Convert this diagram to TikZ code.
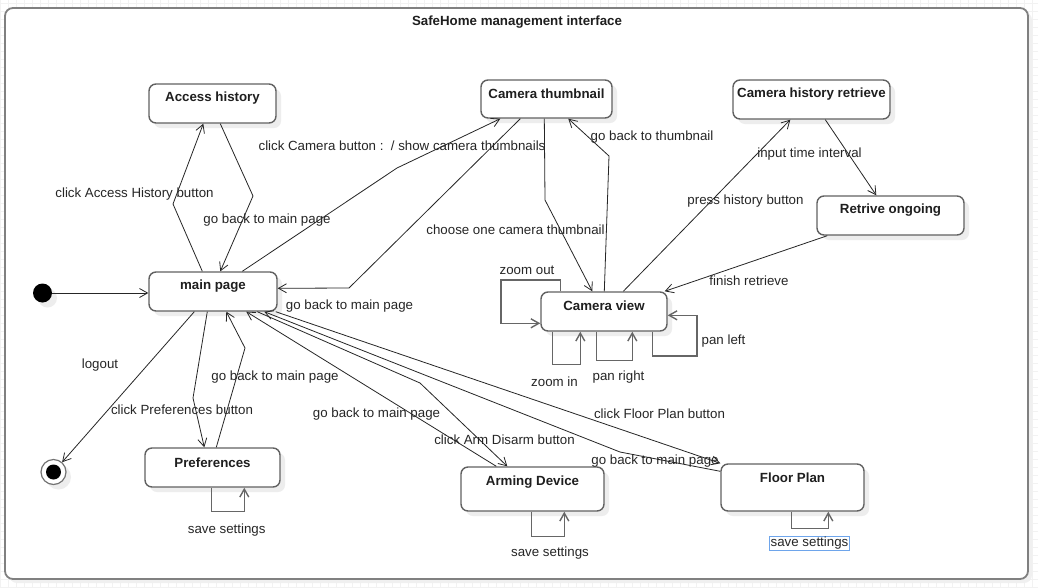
\documentclass[tikz,border=0pt]{standalone}
\usepackage{fontspec}
\setmainfont{Liberation Sans}
\usetikzlibrary{arrows.meta,calc,shadows}
\begin{document}
\begin{tikzpicture}[x=1pt,y=-1pt,
  shad/.style={drop shadow={shadow xshift=5pt, shadow yshift=-5pt, fill=black!7, opacity=1}},
  state/.style={draw=black!62, line width=1.4pt, rounded corners=7pt, fill=white, inner sep=0pt, shad},
  ttl/.style={font=\fontsize{13.3}{15}\selectfont\bfseries, text=black!88, inner sep=0pt},
  lbl/.style={font=\fontsize{13.3}{15}\selectfont, text=black!85, inner sep=0pt, yshift=-1.5pt},
  tr/.style={draw=black!85, line width=0.8pt, -{Straight Barb[length=8pt,width=9pt]}},
  loopy/.style={draw=black!60, line width=1.4pt, -{Straight Barb[length=8pt,width=9pt]}},
  gridl/.style={draw=black!5, line width=0.5pt},
]
\useasboundingbox (0,0) rectangle (1038,587);
% background grid
\foreach \i in {0,8,...,1038} \draw[gridl] (\i,0) -- (\i,587);
\foreach \j in {3,11,...,587} \draw[gridl] (0,\j) -- (1038,\j);
% frame
\draw[draw=black!50, line width=1.8pt, rounded corners=8pt, fill=white,
  drop shadow={shadow xshift=4pt, shadow yshift=-4pt, fill=black!6, opacity=1}] (5,8) rectangle (1028,579);
\node[ttl, yshift=-1.5pt] (title) at (517,21) {SafeHome management interface};

% states
\node[state, minimum width=127pt, minimum height=39pt,
  label={[ttl, name=acc-t, anchor=center, yshift=-14.5pt]north:Access history}] (acc) at (212.5,103.5) {};
\node[state, minimum width=131pt, minimum height=38pt,
  label={[ttl, name=thumb-t, anchor=center, yshift=-14.5pt]north:Camera thumbnail}] (thumb) at (546.5,99) {};
\node[state, minimum width=157pt, minimum height=39pt,
  label={[ttl, name=chr-t, anchor=center, yshift=-14.5pt]north:Camera history retrieve}] (chr) at (811.5,99.5) {};
\node[state, minimum width=147pt, minimum height=39pt,
  label={[ttl, name=ret-t, anchor=center, yshift=-14.5pt]north:Retrive ongoing}] (ret) at (890.5,215.5) {};
\node[state, minimum width=128pt, minimum height=39pt,
  label={[ttl, name=main-t, anchor=center, yshift=-14.5pt]north:main page}] (main) at (213,291.5) {};
\node[state, minimum width=126pt, minimum height=39pt,
  label={[ttl, name=view-t, anchor=center, yshift=-14.5pt]north:Camera view}] (view) at (604,311.5) {};
\node[state, minimum width=135pt, minimum height=39pt,
  label={[ttl, name=pref-t, anchor=center, yshift=-15pt]north:Preferences}] (pref) at (212.5,467.5) {};
\node[state, minimum width=143pt, minimum height=44pt,
  label={[ttl, name=arm-t, anchor=center, yshift=-15.5pt]north:Arming Device}] (arm) at (532.5,489) {};
\node[state, minimum width=143pt, minimum height=47pt,
  label={[ttl, name=floor-t, anchor=center, yshift=-14.5pt]north:Floor Plan}] (floor) at (792.5,487.5) {};

% pseudo states
\node[circle, fill=black, minimum size=19pt, inner sep=0pt, shad] (init) at (42.5,293) {};
\node[circle, draw=black!55, line width=1.2pt, fill=white, minimum size=25pt, inner sep=0pt, shad] (final) at (53.5,472) {};
\node[circle, fill=black, minimum size=15pt, inner sep=0pt] (final-in) at (final) {};

% transitions
\draw[tr] (init) -- (init -| main.west);
\draw[tr] ($(main.north west)+(54,0)$) -- (173,204) -- ($(acc.south west)+(55,0)$);
\draw[tr] ($(acc.south west)+(72,0)$) -- (253,196) -- ($(main.north west)+(72,0)$);
\draw[tr] ($(main.north west)+(94,0)$) -- (397,168) -- ($(thumb.south west)+(20,0)$);
\draw[tr] ($(thumb.south west)+(40,0)$) -- (349,288) -- ($(main.north east)+(0,17)$);
\draw[tr] ($(thumb.south west)+(64,0)$) -- (545,200) -- ($(view.north west)+(52,0)$);
\draw[tr] ($(view.north west)+(64,0)$) -- (609,156) -- ($(thumb.south west)+(88,0)$);
\draw[tr] ($(view.north west)+(83,0)$) -- ($(chr.south west)+(58,0)$);
\draw[tr] ($(chr.south west)+(93,0)$) -- ($(ret.north west)+(60,0)$);
\draw[tr] ($(ret.south west)+(11,0)$) -- ($(view.north east)+(-3,0)$);
\draw[tr] ($(main.south west)+(46,0)$) -- (final);
\draw[tr] ($(main.south west)+(59,0)$) -- (193,398) -- ($(pref.north west)+(60,0)$);
\draw[tr] ($(pref.north west)+(72,0)$) -- (245,348) -- ($(main.south west)+(78,0)$);
\draw[tr] ($(arm.north west)+(36,0)$) -- ($(main.south west)+(98,0)$);
\draw[tr] ($(main.south west)+(109,0)$) -- (420,383) -- ($(arm.north west)+(47,0)$);
\draw[tr] ($(floor.north west)+(0,8)$) -- (620,452) -- ($(main.south west)+(116,0)$);
\draw[tr] ($(main.south east)+(-2,0)$) -- (floor.north west);

% self transitions
\draw[loopy] ($(pref.south west)+(67,0)$) -- ++(0,24) -| ($(pref.south west)+(100,0)$);
\draw[loopy] ($(arm.south west)+(71,0)$) -- ++(0,25) -| ($(arm.south west)+(104,0)$);
\draw[loopy] ($(floor.south west)+(71,0)$) -- ++(0,17) -| ($(floor.south west)+(108,0)$);
\draw[loopy] ($(view.north west)+(20,0)$) |- (501,280) |- ($(view.north west)+(0,32)$);
\draw[loopy] ($(view.south west)+(12,0)$) -- ++(0,33) -| ($(view.south west)+(40,0)$);
\draw[loopy] ($(view.south west)+(56,0)$) -- ++(0,29) -| ($(view.south west)+(92,0)$);
\draw[loopy] ($(view.south west)+(112,0)$) |- (697,356) |- ($(view.north east)+(0,24)$);

% labels
\node[lbl] (l1) at (134.5,192.5) {click Access History button};
\node[lbl] (l2) at (267,218.5) {go back to main page};
\node[lbl] (l3) at (402,144.5) {click Camera button :\ \ / show camera thumbnails};
\node[lbl] (l4) at (515.5,228) {choose one camera thumbnail};
\node[lbl] (l5) at (349.5,304.5) {go back to main page};
\node[lbl] (l6) at (652,135.5) {go back to thumbnail};
\node[lbl] (l7) at (809.5,153) {input time interval};
\node[lbl] (l8) at (745.5,199.5) {press history button};
\node[lbl] (l9) at (749,279.5) {finish retrieve};
\node[lbl] (l10) at (527,268.5) {zoom out};
\node[lbl] (l11) at (554.5,380.5) {zoom in};
\node[lbl] (l12) at (618.5,375.5) {pan right};
\node[lbl] (l13) at (723.5,339.5) {pan left};
\node[lbl] (l14) at (100,363.5) {logout};
\node[lbl] (l15) at (182,408.3) {click Preferences button};
\node[lbl] (l16) at (275,376) {go back to main page};
\node[lbl] (l17) at (376.5,412.5) {go back to main page};
\node[lbl] (l18) at (504.5,438.3) {click Arm Disarm button};
\node[lbl] (l19) at (659.5,412.3) {click Floor Plan button};
\node[lbl] (l20) at (655,459.5) {go back to main page};
\node[lbl] (l21) at (226.7,528.5) {save settings};
\node[lbl] (l22) at (550,551.5) {save settings};
\node[lbl, draw={rgb,255:red,110;green,165;blue,235}, line width=0.6pt, inner xsep=1pt, inner ysep=0.8pt] (l23) at (809.5,542) {save settings};
\end{tikzpicture}
\end{document}
